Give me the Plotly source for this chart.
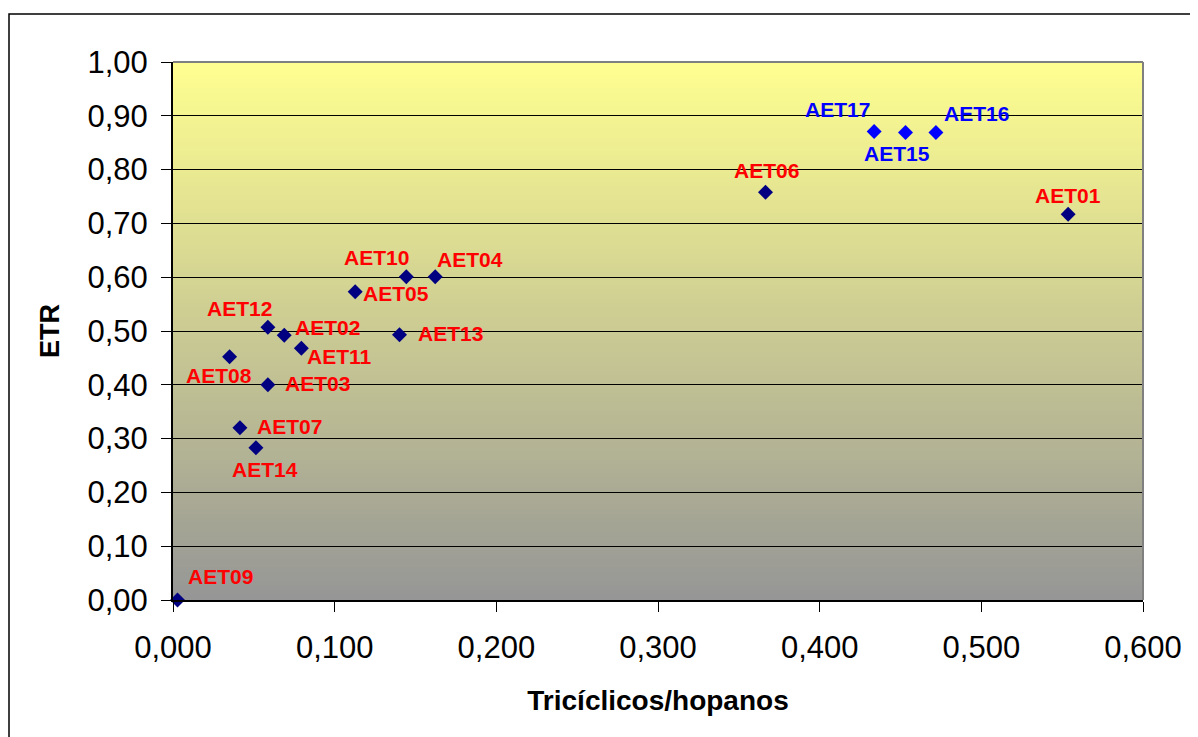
import plotly.graph_objects as go

# ---- data ----
names_a = ["AET01", "AET02", "AET03", "AET04", "AET05", "AET06", "AET07", "AET08",
           "AET09", "AET10", "AET11", "AET12", "AET13", "AET14"]
x_a = [0.5537, 0.0688, 0.0587, 0.1622, 0.1127, 0.3665, 0.0414, 0.0350,
       0.0028, 0.1443, 0.0794, 0.0587, 0.1401, 0.0513]
y_a = [0.717, 0.492, 0.400, 0.601, 0.573, 0.758, 0.320, 0.452,
       0.000, 0.601, 0.468, 0.507, 0.493, 0.283]

names_b = ["AET15", "AET16", "AET17"]
x_b = [0.4531, 0.4719, 0.4337]
y_b = [0.869, 0.869, 0.871]

x_ticks = [0.0, 0.1, 0.2, 0.3, 0.4, 0.5, 0.6]
x_ticklabels = ["0,000", "0,100", "0,200", "0,300", "0,400", "0,500", "0,600"]
y_ticks = [0.0, 0.1, 0.2, 0.3, 0.4, 0.5, 0.6, 0.7, 0.8, 0.9, 1.0]
y_ticklabels = ["0,00", "0,10", "0,20", "0,30", "0,40", "0,50", "0,60", "0,70", "0,80", "0,90", "1,00"]

# label offsets (style), pixels: (dx, dy up)
off_a = {"AET01": (0, 19), "AET02": (43, 8), "AET03": (50, 1), "AET04": (35, 17),
         "AET05": (41, -2), "AET06": (1, 22), "AET07": (50, 1), "AET08": (-11, -19),
         "AET09": (43, 24), "AET10": (-30, 19), "AET11": (38, -8), "AET12": (-28, 19),
         "AET13": (51, 1), "AET14": (9, -22)}
off_b = {"AET15": (-9, -21), "AET16": (41, 19), "AET17": (-37, 22)}

# page body has an 8px margin, so the figure is drawn 8px right/down
OFF = 8
W, H = 1198, 737
ML = 173 - OFF
MT = 62 - OFF
MR = W - (1143 - OFF)
MB = H - (600 - OFF)

fig = go.Figure()

fig.add_trace(go.Scatter(x=x_a, y=y_a, mode="markers",
                         marker=dict(symbol="diamond", size=11.5, color="#000080"),
                         showlegend=False, cliponaxis=False, hoverinfo="skip"))
fig.add_trace(go.Scatter(x=x_b, y=y_b, mode="markers",
                         marker=dict(symbol="diamond", size=11.5, color="#0000FF"),
                         showlegend=False, cliponaxis=False, hoverinfo="skip"))

lab_font = dict(family="Liberation Sans, Arial", size=21)
for n, xv, yv in zip(names_a, x_a, y_a):
    dx, dy = off_a[n]
    fig.add_annotation(x=xv, y=yv, text="<b>%s</b>" % n, showarrow=False,
                       xshift=dx, yshift=dy, font=dict(color="#FF0000", **lab_font))
for n, xv, yv in zip(names_b, x_b, y_b):
    dx, dy = off_b[n]
    fig.add_annotation(x=xv, y=yv, text="<b>%s</b>" % n, showarrow=False,
                       xshift=dx, yshift=dy, font=dict(color="#0000FF", **lab_font))

# gradient background of plot area
shapes = []
N = 120
top = (255, 255, 145)
bot = (150, 150, 150)
for i in range(N):
    t = (i + 0.5) / N
    c = tuple(int(round(top[k] + (bot[k] - top[k]) * t)) for k in range(3))
    shapes.append(dict(type="rect", xref="paper", yref="paper",
                       x0=0, x1=1, y0=1 - (i + 1) / N, y1=1 - i / N + 0.002,
                       fillcolor="rgb(%d,%d,%d)" % c, line=dict(width=0), layer="below"))
# plot area border top/right gray
shapes.append(dict(type="line", xref="paper", yref="paper", x0=0, x1=1, y0=1, y1=1,
                   line=dict(color="#808080", width=2), layer="above"))
shapes.append(dict(type="line", xref="paper", yref="paper", x0=1, x1=1, y0=0, y1=1,
                   line=dict(color="#808080", width=2), layer="above"))
# outer chart border (at page px x=8, y=14)
pw, ph = W - ML - MR, H - MT - MB
bx = 8 - OFF + 1
by = 14 - OFF
shapes.append(dict(type="rect", xref="paper", yref="paper",
                   x0=(bx - ML) / pw, x1=1.2, y0=-0.4, y1=(H - MB - by) / ph,
                   line=dict(color="#000000", width=1.5), fillcolor="rgba(0,0,0,0)", layer="below"))

fig.update_layout(shapes=shapes)

tick_font = dict(family="Liberation Sans, Arial", size=31, color="#000000")
fig.update_xaxes(range=[0, 0.6], tickvals=x_ticks, ticktext=x_ticklabels,
                 showgrid=False, zeroline=False, showline=True, linecolor="#000000", linewidth=2,
                 ticks="outside", ticklen=10, tickcolor="#000000", tickwidth=1,
                 tickfont=tick_font, ticklabelstandoff=9,
                 title=dict(text="<b>Tricíclicos/hopanos</b>", standoff=26,
                            font=dict(family="Liberation Sans, Arial", size=28, color="#000000")))
fig.update_yaxes(range=[0, 1.0], tickvals=y_ticks, ticktext=y_ticklabels,
                 showgrid=True, gridcolor="#000000", gridwidth=1,
                 zeroline=False, showline=True, linecolor="#000000", linewidth=2,
                 ticks="outside", ticklen=10, tickcolor="#000000", tickwidth=1,
                 tickfont=tick_font, ticklabelstandoff=7,
                 title=dict(text="<b>ETR</b>", standoff=20,
                            font=dict(family="Liberation Sans, Arial", size=27, color="#000000")))

fig.update_layout(width=W, height=H, margin=dict(l=ML, r=MR, t=MT, b=MB, autoexpand=False),
                  paper_bgcolor="#FFFFFF", plot_bgcolor="rgba(0,0,0,0)")

fig.write_html("out.html")
